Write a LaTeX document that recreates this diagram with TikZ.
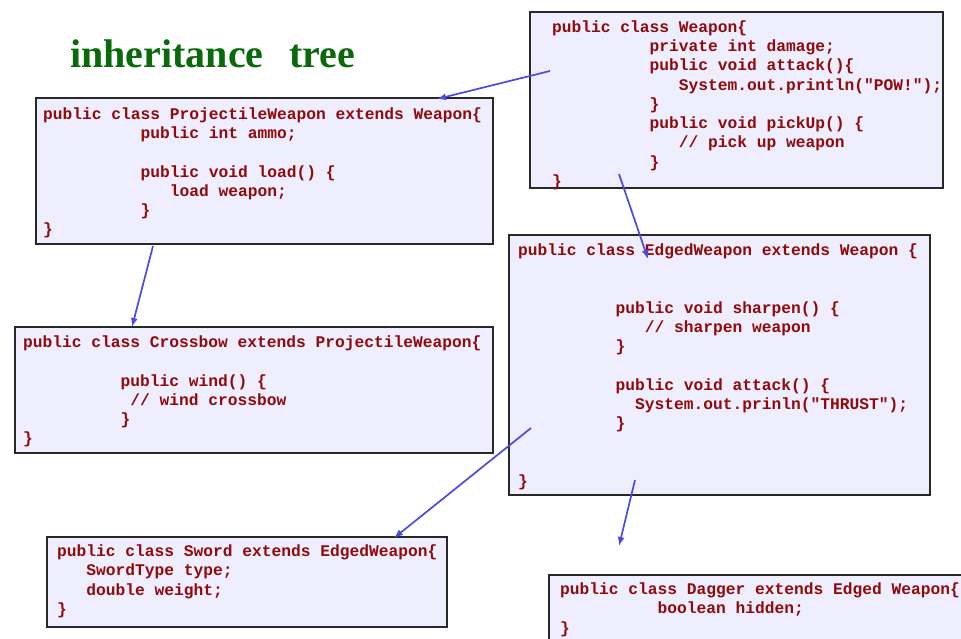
\documentclass[tikz,border=0pt]{standalone}
\usepackage{fontspec}
\setmainfont{Liberation Serif}
\newfontfamily\codefont{Liberation Mono}
\usetikzlibrary{arrows.meta}

\definecolor{boxfill}{RGB}{238,238,254}
\definecolor{boxline}{RGB}{40,40,40}
\definecolor{codered}{RGB}{145,10,10}
\definecolor{titlegreen}{RGB}{10,105,10}
\definecolor{linkblue}{RGB}{75,75,225}

% one monospaced character cell
\newlength\chw
\setlength\chw{9.75pt}
\newcommand\ind[1]{\hskip#1\chw}
\newcommand\codeln[1]{\hbox{#1}}
\newcommand\codeblock[1]{\vtop{\baselineskip=19.25pt\lineskiplimit=-30pt\relax #1}}

\tikzset{
  classbox/.style={draw=boxline, fill=boxfill, line width=2pt, rectangle,
    inner sep=0pt, outer sep=0pt, anchor=north west},
  code/.style={anchor=base west, inner sep=0pt, text=codered,
    font=\codefont\bfseries\fontsize{16.25}{19.25}\selectfont},
  inherit/.style={draw=linkblue, line width=1.7pt, -{Latex[length=9pt,width=7pt]}},
}

\begin{document}
\begin{tikzpicture}[x=1pt, y=-1pt]
\useasboundingbox (0,0) rectangle (961,639);

% title
\node[anchor=base west, inner sep=0pt, text=titlegreen,
      font=\bfseries\fontsize{40}{48}\selectfont] (title) at (70,68)
  {inheritance\hspace*{26pt}tree};

% class boxes
\node[classbox, minimum width=413pt, minimum height=176pt] (weapon) at (530,12) {};
\node[classbox, minimum width=457pt, minimum height=146pt] (projectile) at (36,98) {};
\node[classbox, minimum width=478pt, minimum height=126pt] (crossbow) at (15,327) {};
\node[classbox, minimum width=421pt, minimum height=260pt] (edged) at (509,235) {};
\node[classbox, minimum width=400pt, minimum height=90pt] (sword) at (47,537) {};
\node[classbox, minimum width=430pt, minimum height=90pt] (dagger) at (549,575) {};

% class bodies
\node[code] (weaponcode) at (552,32.5) {\codeblock{%
  \codeln{public class Weapon\{}
  \codeln{\ind{10}private int damage;}
  \codeln{\ind{10}public void attack()\{}
  \codeln{\ind{13}System.out.println("POW!");}
  \codeln{\ind{10}\}}
  \codeln{\ind{10}public void pickUp() \{}
  \codeln{\ind{13}// pick up weapon}
  \codeln{\ind{10}\}}
  \codeln{\}}}};

\node[code] (projectilecode) at (43,119.5) {\codeblock{%
  \codeln{public class ProjectileWeapon extends Weapon\{}
  \codeln{\ind{10}public int ammo;}
  \codeln{}
  \codeln{\ind{10}public void load() \{}
  \codeln{\ind{13}load weapon;}
  \codeln{\ind{10}\}}
  \codeln{\}}}};

\node[code] (crossbowcode) at (23,347.5) {\codeblock{%
  \codeln{public class Crossbow extends ProjectileWeapon\{}
  \codeln{}
  \codeln{\ind{10}public wind() \{}
  \codeln{\ind{11}// wind crossbow}
  \codeln{\ind{10}\}}
  \codeln{\}}}};

\node[code] (edgedcode) at (518,255.5) {\codeblock{%
  \codeln{public class EdgedWeapon extends Weapon \{}
  \codeln{}
  \codeln{}
  \codeln{\ind{10}public void sharpen() \{}
  \codeln{\ind{13}// sharpen weapon}
  \codeln{\ind{10}\}}
  \codeln{}
  \codeln{\ind{10}public void attack() \{}
  \codeln{\ind{12}System.out.prinln("THRUST");}
  \codeln{\ind{10}\}}
  \codeln{}
  \codeln{}
  \codeln{\}}}};

\node[code] (swordcode) at (57,556.5) {\codeblock{%
  \codeln{public class Sword extends EdgedWeapon\{}
  \codeln{\ind{3}SwordType type;}
  \codeln{\ind{3}double weight;}
  \codeln{\}}}};

\node[code] (daggercode) at (560,594.5) {\codeblock{%
  \codeln{public class Dagger extends Edged Weapon\{}
  \codeln{\ind{10}boolean hidden;}
  \codeln{\}}}};

% connector ends
\coordinate (w2p) at ([shift={(20,59)}]weapon.north west);
\coordinate (p2w) at ([shift={(401,1)}]projectile.north west);
\coordinate (w2e) at ([shift={(89,162)}]weapon.north west);
\coordinate (e2w) at ([shift={(139,24)}]edged.north west);
\coordinate (p2c) at ([shift={(117,148)}]projectile.north west);
\coordinate (c2p) at ([shift={(117,0)}]crossbow.north west);
\coordinate (e2s) at ([shift={(22,193)}]edged.north west);
\coordinate (s2e) at ([shift={(347,1)}]sword.north west);
\coordinate (e2d) at ([shift={(126,245)}]edged.north west);
\coordinate (d2e) at ([shift={(70,-29)}]dagger.north west);

% inheritance arrows
\draw[inherit] (w2p) -- (p2w);
\draw[inherit] (w2e) -- (e2w);
\draw[inherit] (p2c) -- (c2p);
\draw[inherit] (e2s) -- (s2e);
\draw[inherit] (e2d) -- (d2e);
\end{tikzpicture}
\end{document}
